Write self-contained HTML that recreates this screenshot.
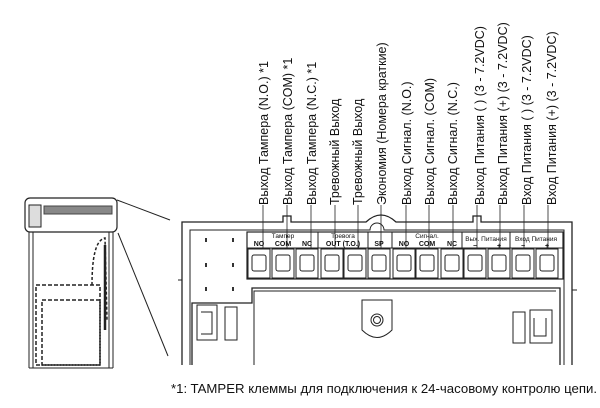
<!DOCTYPE html>
<html><head><meta charset="utf-8"><style>
html,body{margin:0;padding:0;background:#fff;width:600px;height:408px;overflow:hidden}
svg{display:block}
text{font-family:"Liberation Sans","DejaVu Sans",sans-serif;fill:#111}
</style></head><body>
<svg width="600" height="408" viewBox="0 0 600 408" xmlns="http://www.w3.org/2000/svg">
<g stroke="#222" fill="none" stroke-width="1">
<!-- left small device -->
<rect x="25" y="198" width="92" height="34" rx="5" stroke-width="1.2"/>
<rect x="29" y="205" width="12" height="22" fill="#ddd"/>
<rect x="44" y="206" width="68" height="8" fill="#888" stroke="#444"/>
<line x1="29" y1="232" x2="29" y2="368"/><line x1="33" y1="232" x2="33" y2="368"/>
<line x1="113" y1="232" x2="113" y2="368"/><line x1="109" y1="232" x2="109" y2="368"/>
<line x1="29" y1="368" x2="113" y2="368"/>
<rect x="36" y="285" width="64" height="80" stroke-dasharray="4,2" stroke-width="1.5"/>
<rect x="42" y="300" width="58" height="65" stroke-dasharray="4,2" stroke-width="1.5"/>
<path d="M92 285 C92 260 95 240 105 238 L107 320" stroke-dasharray="3,2" stroke-width="1.5"/>
<line x1="105" y1="245" x2="105" y2="330" stroke-width="2.5"/>
<line x1="117" y1="200" x2="170" y2="220"/>
<line x1="118" y1="233" x2="168" y2="356"/>
<!-- main frame -->
<path d="M182 365 V222 H283 V216 H291 V222 H366 Q381 208 396 222 H473 V216 H481 V222 H572 V365" stroke-width="1.3"/>
<path d="M190 365 V230 H370 A7 7 0 0 1 384 230 H564 V365"/>
<path d="M192 365 V303 H252 V288 H560 V365" stroke-width="1.3"/>
<path d="M254 365 V291 H556"/>
<line x1="178" y1="280" x2="182" y2="280"/><line x1="572" y1="290" x2="577" y2="290"/>
<!-- terminal block -->
<rect x="247" y="232" width="316" height="47" stroke-width="1.2" fill="#fff"/>
<line x1="247" y1="248" x2="563" y2="248"/>
<line x1="318" y1="232" x2="318" y2="248"/><line x1="368" y1="232" x2="368" y2="248"/>
<line x1="392" y1="232" x2="392" y2="248"/><line x1="462" y1="232" x2="462" y2="248"/>
<line x1="510" y1="232" x2="510" y2="248"/>
<g fill="#fff">
<rect x="248" y="249" width="22" height="29"/><rect x="272" y="249" width="22" height="29"/><rect x="296" y="249" width="22" height="29"/><rect x="321" y="249" width="22" height="29"/><rect x="344" y="249" width="22" height="29"/><rect x="368" y="249" width="22" height="29"/><rect x="393" y="249" width="22" height="29"/><rect x="416" y="249" width="22" height="29"/><rect x="441" y="249" width="22" height="29"/><rect x="464" y="249" width="22" height="29"/><rect x="488" y="249" width="22" height="29"/><rect x="512" y="249" width="22" height="29"/><rect x="536" y="249" width="22" height="29"/>
<rect x="252" y="255" width="14" height="16" rx="2"/><rect x="276" y="255" width="14" height="16" rx="2"/><rect x="300" y="255" width="14" height="16" rx="2"/><rect x="325" y="255" width="14" height="16" rx="2"/><rect x="348" y="255" width="14" height="16" rx="2"/><rect x="372" y="255" width="14" height="16" rx="2"/><rect x="397" y="255" width="14" height="16" rx="2"/><rect x="420" y="255" width="14" height="16" rx="2"/><rect x="445" y="255" width="14" height="16" rx="2"/><rect x="468" y="255" width="14" height="16" rx="2"/><rect x="492" y="255" width="14" height="16" rx="2"/><rect x="516" y="255" width="14" height="16" rx="2"/><rect x="540" y="255" width="14" height="16" rx="2"/>
</g>
<!-- leader lines -->
<g stroke-width="0.8">
<line x1="263" y1="205" x2="263" y2="248"/><line x1="287" y1="205" x2="287" y2="248"/><line x1="311" y1="205" x2="311" y2="248"/><line x1="335" y1="205" x2="335" y2="248"/><line x1="358" y1="205" x2="358" y2="248"/><line x1="381" y1="205" x2="381" y2="248"/><line x1="406" y1="205" x2="406" y2="248"/><line x1="429" y1="205" x2="429" y2="248"/><line x1="453" y1="205" x2="453" y2="248"/><line x1="477" y1="205" x2="477" y2="248"/><line x1="500" y1="205" x2="500" y2="248"/><line x1="524" y1="205" x2="524" y2="248"/><line x1="548" y1="205" x2="548" y2="248"/>
</g>
<!-- clips -->
<path d="M197 305 H217 V340 H197 Z M201 312 H212 V334 H201"/>
<rect x="225" y="307" width="12" height="33"/>
<rect x="513" y="312" width="12" height="31"/>
<path d="M530 310 H552 V343 H530 Z M534 318 V336 H546 V318"/>
<path d="M362 300 H392 V330 Q377 345 362 330 Z"/>
<circle cx="377" cy="320" r="6"/><circle cx="377" cy="320" r="3.5"/>
</g>
<g fill="#333">
<rect x="205" y="238" width="2" height="4"/><rect x="232" y="238" width="2" height="4"/>
<rect x="205" y="263" width="2" height="4"/><rect x="232" y="263" width="2" height="4"/>
<rect x="205" y="287" width="2" height="4"/><rect x="232" y="287" width="2" height="4"/>
</g>
<!-- strip labels -->
<g font-size="6.5" text-anchor="middle">
<text x="283" y="238">Тампер</text><text x="343" y="238">Тревога</text><text x="427" y="238">Сигнал.</text>
<text x="486" y="241">Вых. Питания</text><text x="536" y="241">Вход Питания</text>
</g>
<g font-size="7" font-weight="bold" text-anchor="middle">
<text x="259" y="246">NO</text><text x="283" y="246">COM</text><text x="307" y="246">NC</text>
<text x="343" y="246">OUT (T.O.)</text><text x="379" y="246">SP</text>
<text x="404" y="246">NO</text><text x="427" y="246">COM</text><text x="452" y="246">NC</text>
<text x="475" y="248">−</text><text x="499" y="248">+</text><text x="523" y="248">−</text><text x="547" y="248">+</text>
</g>
<!-- vertical labels -->
<g font-size="12.5">
<text transform="translate(268,205) rotate(-90)">Выход Тампера (N.O.) *1</text>
<text transform="translate(292,205) rotate(-90)">Выход Тампера (COM) *1</text>
<text transform="translate(316,205) rotate(-90)">Выход Тампера (N.C.) *1</text>
<text transform="translate(339,205) rotate(-90)">Тревожный Выход</text>
<text transform="translate(362,205) rotate(-90)">Тревожный Выход</text>
<text transform="translate(386,205) rotate(-90)">Экономия (Номера краткие)</text>
<text transform="translate(411,205) rotate(-90)">Выход Сигнал. (N.O.)</text>
<text transform="translate(434,205) rotate(-90)">Выход Сигнал. (COM)</text>
<text transform="translate(457,205) rotate(-90)">Выход Сигнал. (N.C.)</text>
<text transform="translate(484,205) rotate(-90)">Выход Питания ( ) (3 - 7.2VDC)</text>
<text transform="translate(507,205) rotate(-90)">Выход Питания (+) (3 - 7.2VDC)</text>
<text transform="translate(531,205) rotate(-90)">Вход Питания ( ) (3 - 7.2VDC)</text>
<text transform="translate(556,205) rotate(-90)">Вход Питания (+) (3 - 7.2VDC)</text>
</g>
<text x="171" y="393" font-size="12.5" textLength="426" lengthAdjust="spacingAndGlyphs">*1: TAMPER клеммы для подключения к 24-часовому контролю цепи.</text>
</svg>
</body></html>
